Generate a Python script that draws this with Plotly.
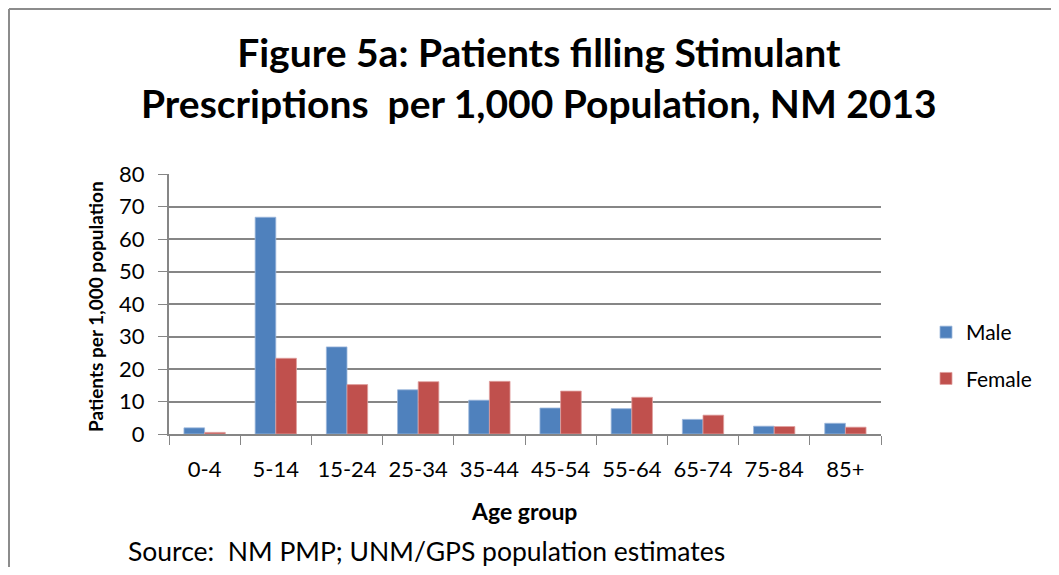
import plotly.graph_objects as go

age_groups = ["0-4", "5-14", "15-24", "25-34", "35-44", "45-54", "55-64", "65-74", "75-84", "85+"]
male = [1.9, 66.7, 26.8, 13.6, 10.4, 8.0, 7.8, 4.5, 2.4, 3.3]
female = [0.5, 23.3, 15.2, 16.1, 16.2, 13.2, 11.3, 5.8, 2.3, 2.1]

FONT = "Lato"
OFF = 8  # page body margin
W, H = 1059 - 2 * OFF, 575 - 2 * OFF
# page-pixel plot area: x 169..881, y 174..434
ml = 169 - OFF
mt = 174 - OFF
mr = W - (881 - OFF)
mb = H - (434 - OFF)
pw, ph = W - ml - mr, H - mt - mb

def px(x):
    return (x - OFF - ml) / pw

def py(y):
    return (H - mb - (y - OFF)) / ph

fig = go.Figure()
fig.add_trace(go.Bar(x=age_groups, y=male, name="Male", marker=dict(color="#4F81BD", line=dict(color="#9DB7DC", width=0.8)), legendgroup="m"))
fig.add_trace(go.Bar(x=age_groups, y=female, name="Female", marker=dict(color="#C0504D", line=dict(color="#E0A09E", width=0.8)), legendgroup="f"))

fig.update_layout(
    width=W, height=H,
    margin=dict(l=ml, r=mr, t=mt, b=mb),
    paper_bgcolor="white", plot_bgcolor="white",
    barmode="group", bargap=0.42, bargroupgap=0,
    font=dict(family=FONT, color="black", size=22),
    showlegend=True,
    legend=dict(x=px(926), y=py(312), xanchor="left", yanchor="top", font=dict(size=21, family=FONT),
                tracegroupgap=16, traceorder="grouped", itemwidth=30, bgcolor="rgba(0,0,0,0)"),
    xaxis=dict(type="category", tickson="boundaries", ticks="outside", ticklen=9, tickcolor="#868686",
               showline=True, linecolor="#868686", linewidth=2, showgrid=False,
               ticklabelstandoff=15, tickfont=dict(size=22, family=FONT)),
    yaxis=dict(range=[0, 80], dtick=10, ticks="outside", ticklen=9, tickcolor="#868686",
               showline=True, linecolor="#868686", linewidth=2, showgrid=True, gridcolor="#868686",
               gridwidth=2, zeroline=False, ticklabelstandoff=9, tickfont=dict(size=22, family=FONT)),
    annotations=[
        dict(text="<b>Figure 5a: Patients filling Stimulant<br>Prescriptions  per 1,000 Population, NM 2013</b>",
             x=px(539), y=py(77), xref="paper", yref="paper", xanchor="center", yanchor="middle",
             showarrow=False, font=dict(size=39, family=FONT), align="center"),
        dict(text="<b>Patients per 1,000 population</b>", textangle=-90,
             x=px(95), y=py(307), xref="paper", yref="paper", xanchor="center", yanchor="middle",
             showarrow=False, font=dict(size=19, family=FONT)),
        dict(text="<b>Age group</b>", x=px(524), y=py(511), xref="paper", yref="paper",
             xanchor="center", yanchor="middle", showarrow=False, font=dict(size=23, family=FONT)),
        dict(text="Source:  NM PMP; UNM/GPS population estimates", x=px(126), y=py(551), xref="paper", yref="paper",
             xanchor="left", yanchor="middle", showarrow=False, font=dict(size=26.5, family=FONT)),
    ],
    shapes=[
        dict(type="line", xref="paper", yref="paper", x0=px(OFF + 1), x1=px(W + OFF), y0=py(OFF + 1), y1=py(OFF + 1),
             line=dict(color="#8C8C8C", width=2)),
        dict(type="line", xref="paper", yref="paper", x0=px(OFF + 1), x1=px(OFF + 1), y0=py(OFF + 1), y1=py(H + OFF),
             line=dict(color="#8C8C8C", width=2)),
    ],
)

fig.write_html("out.html")
